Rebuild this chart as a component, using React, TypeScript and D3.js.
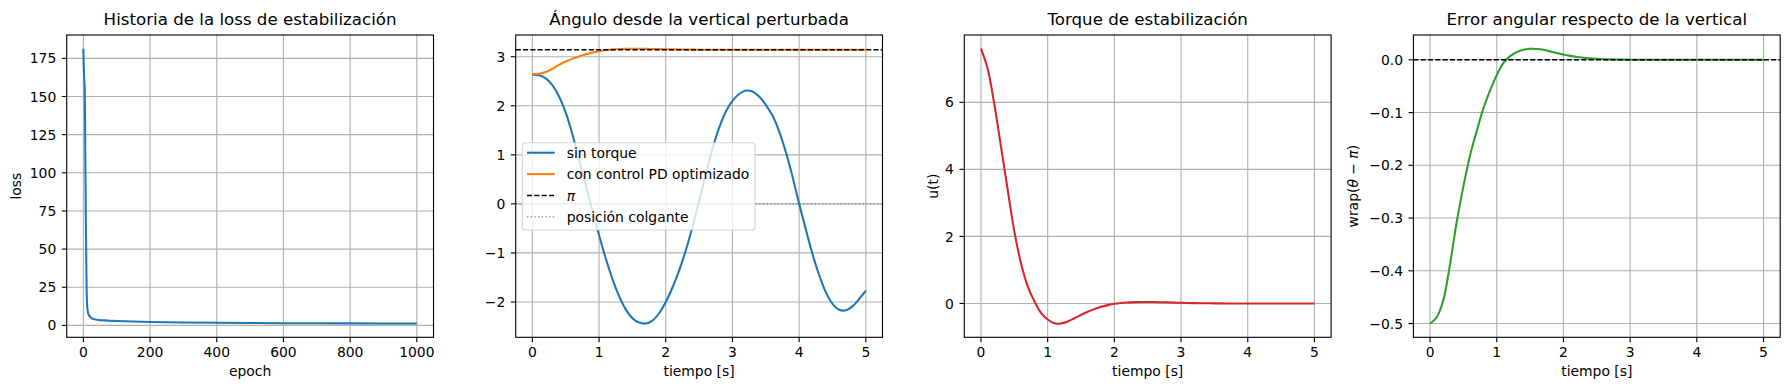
import React from 'react';
import * as d3 from 'd3';

// ---- data ----
const lossEpochs = [0, 1, 2, 3, 4, 5, 6, 7, 8, 9, 10, 11, 12, 14, 16, 18, 20, 25, 30, 40, 50, 75, 100, 150, 200, 300, 400, 500, 600, 700, 800, 900, 1000];
const lossValues = [181.3, 172, 164, 160, 156, 135, 105, 80, 58, 37, 20, 14, 11, 8.3, 7, 6.2, 5.6, 4.7, 4.2, 3.7, 3.45, 3.1, 2.9, 2.5, 2.2, 1.9, 1.7, 1.55, 1.45, 1.38, 1.3, 1.25, 1.2];

const tiempo = [
  0.0, 0.1, 0.2, 0.3, 0.4, 0.5, 0.6, 0.7, 0.8, 0.9,
  1.0, 1.1, 1.2, 1.3, 1.4, 1.5, 1.6, 1.7, 1.8, 1.9,
  2.0, 2.1, 2.2, 2.3, 2.4, 2.5, 2.6, 2.7, 2.8, 2.9,
  3.0, 3.1, 3.2, 3.3, 3.4, 3.5, 3.6, 3.7, 3.8, 3.9,
  4.0, 4.1, 4.2, 4.3, 4.4, 4.5, 4.6, 4.7, 4.8, 4.9, 5.0,
];

// pendulum angle without torque
const thetaSinTorque = [
  2.64, 2.62, 2.56, 2.42, 2.19, 1.86, 1.42, 0.90, 0.38, -0.14,
  -0.64, -1.11, -1.53, -1.88, -2.15, -2.33, -2.42, -2.44, -2.38, -2.23,
  -2.00, -1.71, -1.36, -0.95, -0.47, 0.06, 0.60, 1.12, 1.55, 1.88,
  2.10, 2.24, 2.31, 2.29, 2.19, 2.02, 1.80, 1.48, 1.06, 0.56,
  0.0, -0.52, -1.02, -1.45, -1.80, -2.04, -2.16, -2.17, -2.09, -1.94, -1.77,
];

// wrapped angular error of the PD-controlled run
const errorPD = [
  -0.500, -0.488, -0.455, -0.387, -0.307, -0.240, -0.181, -0.135, -0.092, -0.058,
  -0.029, -0.006, 0.007, 0.0145, 0.019, 0.021, 0.0205, 0.019, 0.016, 0.013,
  0.010, 0.0075, 0.0055, 0.004, 0.0028, 0.0019, 0.0012, 0.0008, 0.0005, 0.0003,
  0.0002, 0.0001, 0, 0, 0, 0, 0, 0, 0, 0,
  0, 0, 0, 0, 0, 0, 0, 0, 0, 0, 0,
];

// stabilising torque
const torque = [
  7.60, 7.00, 5.95, 4.68, 3.40, 2.15, 1.20, 0.52, 0.07, -0.28,
  -0.48, -0.59, -0.60, -0.54, -0.44, -0.34, -0.25, -0.17, -0.10, -0.05,
  -0.01, 0.015, 0.03, 0.04, 0.045, 0.045, 0.042, 0.037, 0.031, 0.025,
  0.019, 0.014, 0.010, 0.007, 0.005, 0.003, 0.002, 0.001, 0, 0,
  0, 0, 0, 0, 0, 0, 0, 0, 0, 0, 0,
];

const thetaPD = errorPD.map((e) => Math.PI + e);

const epochTicks = [0, 200, 400, 600, 800, 1000];
const lossTicks = [0, 25, 50, 75, 100, 125, 150, 175];
const timeTicks = [0, 1, 2, 3, 4, 5];
const thetaTicks = [-2, -1, 0, 1, 2, 3];
const torqueTicks = [0, 2, 4, 6];
const errorTicks = [-0.5, -0.4, -0.3, -0.2, -0.1, 0.0];

// ---- layout ----
const W = 1789;
const H = 390;
const FONT = "'DejaVu Sans', sans-serif";
const AX_TOP = 35;
const AX_BOTTOM = 337.3;
const AX_W = 366.8;
const LEFTS = [66.7, 515.7, 964.3, 1413.4];
const GRID = '#b0b0b0';
const FS = 13.9;
const TITLE_FS = 16.67;
const LW = 2.08;
const THIN = 1.11;
const TICK_LEN = 4.86;
const DASH = '5.1,2.2';

const minus = (s: string) => s.replace('-', '\u2212');
const fmtInt = (v: number) => minus(String(v));
const fmt1 = (v: number) => minus(v.toFixed(1));

const padded = (vals: number[]): [number, number] => {
  const lo = d3.min(vals) as number;
  const hi = d3.max(vals) as number;
  const m = (hi - lo) * 0.05;
  return [lo - m, hi + m];
};

type S = d3.ScaleLinear<number, number>;

interface PanelProps {
  idx: number;
  xDomain: [number, number];
  yDomain: [number, number];
  xTicks: number[];
  yTicks: number[];
  yFmt: (v: number) => string;
  title: string;
  xLabel: string;
  yLabel?: React.ReactNode;
  yLabelX?: number;
  children: (x: S, y: S) => React.ReactNode;
}

function Panel({ idx, xDomain, yDomain, xTicks, yTicks, yFmt, title, xLabel, yLabel, yLabelX, children }: PanelProps) {
  const left = LEFTS[idx];
  const right = left + AX_W;
  const x = d3.scaleLinear().domain(xDomain).range([left, right]);
  const y = d3.scaleLinear().domain(yDomain).range([AX_BOTTOM, AX_TOP]);
  const cx = (left + right) / 2;
  const cy = (AX_TOP + AX_BOTTOM) / 2;
  const clipId = `clip${idx}`;
  return (
    <g>
      <clipPath id={clipId}>
        <rect x={left} y={AX_TOP} width={AX_W} height={AX_BOTTOM - AX_TOP} />
      </clipPath>
      {/* grid */}
      {xTicks.map((t) => (
        <line key={'gx' + t} x1={x(t)} x2={x(t)} y1={AX_TOP} y2={AX_BOTTOM} stroke={GRID} strokeWidth={THIN} />
      ))}
      {yTicks.map((t) => (
        <line key={'gy' + t} x1={left} x2={right} y1={y(t)} y2={y(t)} stroke={GRID} strokeWidth={THIN} />
      ))}
      <g clipPath={`url(#${clipId})`}>{children(x, y)}</g>
      <rect x={left} y={AX_TOP} width={AX_W} height={AX_BOTTOM - AX_TOP} fill="none" stroke="#000" strokeWidth={THIN} />
      {/* ticks */}
      {xTicks.map((t) => (
        <g key={'tx' + t}>
          <line x1={x(t)} x2={x(t)} y1={AX_BOTTOM} y2={AX_BOTTOM + TICK_LEN} stroke="#000" strokeWidth={THIN} />
          <text x={x(t)} y={AX_BOTTOM + 19.7} textAnchor="middle" fontSize={FS} fontFamily={FONT} fill="#000">
            {fmtInt(t)}
          </text>
        </g>
      ))}
      {yTicks.map((t) => (
        <g key={'ty' + t}>
          <line x1={left - TICK_LEN} x2={left} y1={y(t)} y2={y(t)} stroke="#000" strokeWidth={THIN} />
          <text x={left - 10.4} y={y(t) + 5.1} textAnchor="end" fontSize={FS} fontFamily={FONT} fill="#000">
            {yFmt(t)}
          </text>
        </g>
      ))}
      <text x={cx} y={24.8} textAnchor="middle" fontSize={TITLE_FS} fontFamily={FONT} fill="#000">
        {title}
      </text>
      <text x={cx} y={376.3} textAnchor="middle" fontSize={FS} fontFamily={FONT} fill="#000">
        {xLabel}
      </text>
      {yLabel && (
        <text
          transform={`translate(${yLabelX},${cy}) rotate(-90)`}
          textAnchor="middle"
          fontSize={FS}
          fontFamily={FONT}
          fill="#000"
        >
          {yLabel}
        </text>
      )}
    </g>
  );
}

const lineT = (xs: number[], ys: number[], x: S, y: S, curve: d3.CurveFactory = d3.curveCatmullRom) =>
  d3
    .line<number>()
    .x((_, i) => x(xs[i]))
    .y((v) => y(v))
    .curve(curve)(ys) as string;

export default function App() {
  const timeDom = padded(tiempo);

  const legendItems = [
    { label: 'sin torque', color: '#1f77b4', dash: undefined as string | undefined, w: LW, italic: false },
    { label: 'con control PD optimizado', color: '#ff7f0e', dash: undefined, w: LW, italic: false },
    { label: '\u03c0', color: '#000', dash: DASH, w: 1.39, italic: true },
    { label: 'posición colgante', color: '#808080', dash: '1.39,2.3', w: 1.39, italic: false },
  ];

  return (
    <svg width={W} height={H} style={{ position: 'absolute', left: 0, top: 0, background: '#fff' }}>
      <rect width={W} height={H} fill="#fff" />

      <Panel
        idx={0}
        xDomain={padded(lossEpochs)}
        yDomain={padded(lossValues)}
        xTicks={epochTicks}
        yTicks={lossTicks}
        yFmt={fmtInt}
        title="Historia de la loss de estabilización"
        xLabel="epoch"
        yLabel="loss"
        yLabelX={21.3}
      >
        {(x, y) => (
          <path d={lineT(lossEpochs, lossValues, x, y, d3.curveLinear)} fill="none" stroke="#1f77b4" strokeWidth={LW} strokeLinejoin="round" />
        )}
      </Panel>

      <Panel
        idx={1}
        xDomain={timeDom}
        yDomain={padded([...thetaSinTorque, ...thetaPD, Math.PI, 0])}
        xTicks={timeTicks}
        yTicks={thetaTicks}
        yFmt={fmtInt}
        title="Ángulo desde la vertical perturbada"
        xLabel="tiempo [s]"
      >
        {(x, y) => (
          <g>
            <path d={lineT(tiempo, thetaSinTorque, x, y)} fill="none" stroke="#1f77b4" strokeWidth={LW} />
            <path d={lineT(tiempo, thetaPD, x, y)} fill="none" stroke="#ff7f0e" strokeWidth={LW} />
            <line x1={LEFTS[1]} x2={LEFTS[1] + AX_W} y1={y(Math.PI)} y2={y(Math.PI)} stroke="#000" strokeWidth={1.39} strokeDasharray={DASH} />
            <line x1={LEFTS[1]} x2={LEFTS[1] + AX_W} y1={y(0)} y2={y(0)} stroke="#808080" strokeWidth={1.39} strokeDasharray="1.39,2.3" />
          </g>
        )}
      </Panel>

      {/* legend of panel 2 */}
      <g>
        <rect x={522.3} y={142.7} width={232.7} height={87.3} rx={2.8} fill="#fff" fillOpacity={0.8} stroke="#cccccc" strokeOpacity={0.8} strokeWidth={THIN} />
        {legendItems.map((it, i) => {
          const ly = 152.7 + i * 21.4;
          return (
            <g key={it.label}>
              <line x1={527} x2={554.8} y1={ly} y2={ly} stroke={it.color} strokeWidth={it.w} strokeDasharray={it.dash} />
              <text x={566.7} y={ly + 5} fontSize={FS} fontFamily={FONT} fill="#000" fontStyle={it.italic ? 'italic' : 'normal'}>
                {it.label}
              </text>
            </g>
          );
        })}
      </g>

      <Panel
        idx={2}
        xDomain={timeDom}
        yDomain={padded(torque)}
        xTicks={timeTicks}
        yTicks={torqueTicks}
        yFmt={fmtInt}
        title="Torque de estabilización"
        xLabel="tiempo [s]"
        yLabel="u(t)"
        yLabelX={937.7}
      >
        {(x, y) => <path d={lineT(tiempo, torque, x, y)} fill="none" stroke="#d62728" strokeWidth={LW} />}
      </Panel>

      <Panel
        idx={3}
        xDomain={timeDom}
        yDomain={padded([...errorPD, 0])}
        xTicks={timeTicks}
        yTicks={errorTicks}
        yFmt={fmt1}
        title="Error angular respecto de la vertical"
        xLabel="tiempo [s]"
        yLabel={
          <>
            wrap(<tspan fontStyle="italic">θ</tspan> − <tspan fontStyle="italic">π</tspan>)
          </>
        }
        yLabelX={1357.8}
      >
        {(x, y) => (
          <g>
            <path d={lineT(tiempo, errorPD, x, y)} fill="none" stroke="#2ca02c" strokeWidth={LW} />
            <line x1={LEFTS[3]} x2={LEFTS[3] + AX_W} y1={y(0)} y2={y(0)} stroke="#000" strokeWidth={1.39} strokeDasharray={DASH} />
          </g>
        )}
      </Panel>
    </svg>
  );
}
